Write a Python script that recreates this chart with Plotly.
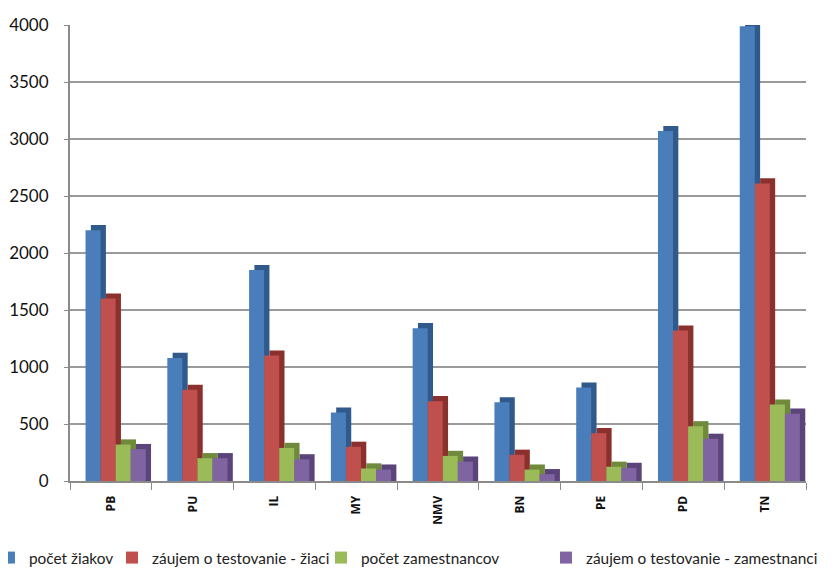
import plotly.graph_objects as go

categories = ["PB", "PU", "IL", "MY", "NMV", "BN", "PE", "PD", "TN"]
pocet_ziakov = [2200, 1080, 1850, 600, 1340, 690, 820, 3070, 3990]
zaujem_ziaci = [1600, 800, 1100, 300, 700, 230, 420, 1320, 2610]
pocet_zamestnancov = [320, 200, 290, 110, 220, 100, 125, 480, 670]
zaujem_zamestnanci = [280, 200, 190, 100, 170, 60, 115, 370, 590]
series_names = ["počet žiakov", "záujem o testovanie - žiaci",
                "počet zamestnancov", "záujem o testovanie - zamestnanci"]
series_values = [pocet_ziakov, zaujem_ziaci, pocet_zamestnancov, zaujem_zamestnanci]
colors = ["#4A7EBB", "#C0504D", "#9BBB59", "#8064A2"]
side_colors = ["#30598C", "#8A302D", "#6F8A3A", "#5A4479"]
y_ticks = [0, 500, 1000, 1500, 2000, 2500, 3000, 3500, 4000]

legend_ids = ["legend", "legend2", "legend3", "legend4"]
legend_x = [-0.1101, 0.0571, 0.3410, 0.6467]

bar_w = 0.184
front_offsets = [-0.31, -0.126, 0.058, 0.242]
side_shift = 0.065
depth = 45

fig = go.Figure()
# 3D-like side/top faces (drawn behind the front faces), reaching down to the floor
for vals, sc, off in zip(series_values, side_colors, front_offsets):
    fig.add_trace(go.Bar(x=categories, y=[v + depth for v in vals], base=0, width=bar_w,
                         offset=off + side_shift, marker=dict(color=sc, line=dict(width=0)),
                         showlegend=False, hoverinfo="skip"))
# front faces
for name, vals, c, off, lid in zip(series_names, series_values, colors,
                                   front_offsets, legend_ids):
    fig.add_trace(go.Bar(x=categories, y=vals, name=name, legend=lid, width=bar_w,
                         offset=off, marker=dict(color=c, line=dict(width=0))))

legend_common = dict(orientation="h", xanchor="left", y=-0.169, yanchor="middle",
                     font=dict(size=15.4, color="#222222"), itemwidth=30,
                     bgcolor="rgba(0,0,0,0)", borderwidth=0)
layout_legends = {}
for lid, lx in zip(legend_ids, legend_x):
    layout_legends[lid] = dict(legend_common, x=lx)

fig.update_layout(
    width=827, height=565,
    margin=dict(l=62, r=29, t=17, b=92, autoexpand=False),
    paper_bgcolor="white", plot_bgcolor="white",
    barmode="overlay",
    font=dict(family="Lato, Open Sans, sans-serif", color="#222222"),
    showlegend=True,
    xaxis=dict(showline=True, linecolor="#8A8A8A", linewidth=2,
               ticks="outside", tickson="boundaries", ticklen=7, tickcolor="#8A8A8A",
               tickangle=-90, ticklabelstandoff=8,
               tickfont=dict(size=12, family="Open Sans", color="#111111", weight="bold"),
               showgrid=False),
    yaxis=dict(range=[0, 4000], tickvals=y_ticks, showline=True, linecolor="#8A8A8A",
               linewidth=2, ticks="outside", ticklen=4, tickcolor="#8A8A8A",
               ticklabelstandoff=12,
               tickfont=dict(size=17, color="#111111"),
               showgrid=True, gridcolor="#9A9A9A", gridwidth=1.5, zeroline=False),
    **layout_legends,
)

fig.write_html("out.html")
